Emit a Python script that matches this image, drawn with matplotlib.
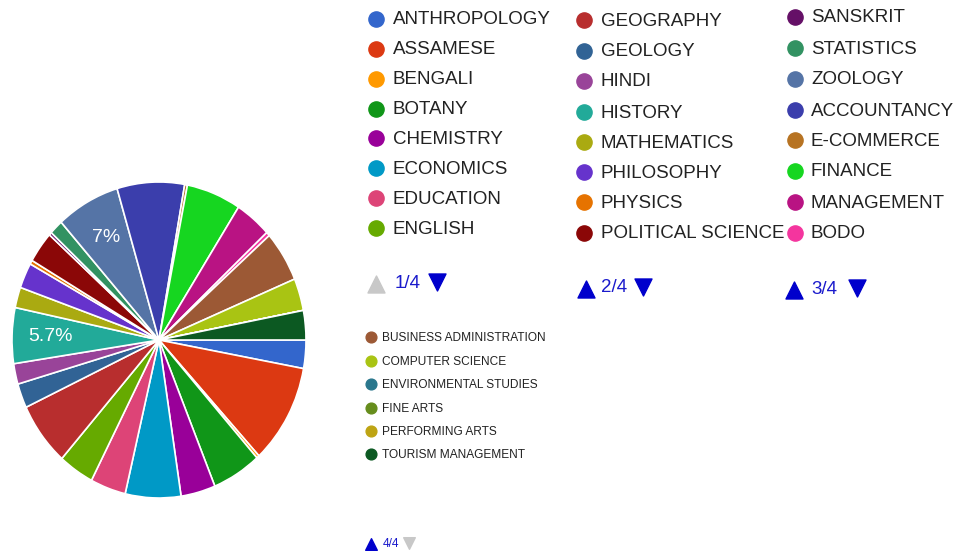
import matplotlib
matplotlib.use("Agg")
import matplotlib.pyplot as plt
from matplotlib import font_manager as fm

# subjects (legend order) and their share of the pie
subjects = ["ANTHROPOLOGY", "ASSAMESE", "BENGALI", "BOTANY", "CHEMISTRY", "ECONOMICS",
            "EDUCATION", "ENGLISH", "GEOGRAPHY", "GEOLOGY", "HINDI", "HISTORY",
            "MATHEMATICS", "PHILOSOPHY", "PHYSICS", "POLITICAL SCIENCE", "SANSKRIT",
            "STATISTICS", "ZOOLOGY", "ACCOUNTANCY", "E-COMMERCE", "FINANCE",
            "MANAGEMENT", "BODO", "BUSINESS ADMINISTRATION", "COMPUTER SCIENCE",
            "ENVIRONMENTAL STUDIES", "FINE ARTS", "PERFORMING ARTS", "TOURISM MANAGEMENT"]
shares = [2.9, 10.2, 0.3, 5.4, 3.8, 6.1,
          3.9, 3.9, 6.5, 2.5, 2.1, 5.7,
          2.1, 2.6, 0.4, 3.2, 0.3,
          1.5, 7.0, 7.4, 0.3, 6.0,
          4.0, 0.4, 5.2, 3.3,
          0.0, 0.0, 0.0, 3.0]
colors = ["#3366cc", "#dc3912", "#ff9900", "#109618", "#990099", "#0099c6",
          "#dd4477", "#66aa00", "#b82e2e", "#316395", "#994499", "#22aa99",
          "#aaaa11", "#6633cc", "#e67300", "#8b0707", "#651067", "#329262",
          "#5574a6", "#3b3eac", "#b77322", "#16d620", "#b91383", "#f4359e",
          "#9c5935", "#a9c413", "#2a778d", "#668d1c", "#bea413", "#0c5922"]
labelled = ["ZOOLOGY", "HISTORY"]
pages = [subjects[0:8], subjects[8:16], subjects[16:24], subjects[24:30]]
page_text = ["1/4", "2/4", "3/4", "4/4"]

names = {f.name for f in fm.fontManager.ttflist}
font = "Liberation Sans"
narrow = "Liberation Sans Narrow" if "Liberation Sans Narrow" in names else None

W, H = 970, 555
fig = plt.figure(figsize=(W / 100, H / 100), dpi=100)

# pie (slightly taller than wide, like the screenshot)
ax = fig.add_axes([12 / W, 57 / H, 294 / W, 316 / H])
def pct_fmt(p):
    return f"{p:.1f}".rstrip("0").rstrip(".") + "%"
wedges, texts, autotexts = ax.pie(shares, colors=colors, startangle=0, counterclock=False,
                                  autopct=pct_fmt, pctdistance=0.74,
                                  wedgeprops=dict(edgecolor="white", linewidth=1.2),
                                  textprops=dict(color="white", fontsize=14, family=font))
for name, t in zip(subjects, autotexts):
    t.set_visible(name in labelled)
ax.set_aspect("auto")
ax.set_xlim(-1, 1)
ax.set_ylim(-1, 1)

# legend pages drawn in pixel coordinates
lg = fig.add_axes([0, 0, 1, 1])
lg.set_xlim(0, W)
lg.set_ylim(H, 0)
lg.axis("off")

col_x = [376, 584, 795]
txt_x = [393, 601, 811]
row_y = [[19, 49, 79, 109, 138, 168, 198, 228],
         [20, 51, 81, 112, 142, 172, 202, 233],
         [17, 48, 79, 110, 140, 171, 202, 233]]
pager = [(376, 395, 437, 283), (586, 601, 643, 288), (794, 811, 857, 289)]
blue, grey = "#0000cc", "#c8c8c8"

for p in range(3):
    for j, name in enumerate(pages[p]):
        k = subjects.index(name)
        lg.scatter(col_x[p], row_y[p][j], s=120, color=colors[k], zorder=3)
        lg.text(txt_x[p], row_y[p][j] + 1, name, fontsize=13.5, family=font,
                color="#222222", va="center", ha="left")
    ux, tx, dx, py = pager[p]
    lg.scatter(ux, py + 1, marker="^", s=150, color=grey if p == 0 else blue, zorder=3)
    lg.text(tx, py, page_text[p], fontsize=13.5, family=font, color="#1a1acc",
            va="center", ha="left")
    lg.scatter(dx, py - 1, marker="v", s=150, color=blue, zorder=3)

# last page, smaller and narrower text
small_y = [337, 361, 384, 408, 431, 454]
fam4 = [narrow, font] if narrow else [font]
fs4 = 10.5 if narrow else 8.6
for j, name in enumerate(pages[3]):
    k = subjects.index(name)
    lg.scatter(371, small_y[j], s=60, color=colors[k], zorder=3)
    lg.text(382, small_y[j] + 1, name, fontsize=fs4, family=fam4,
            color="#222222", va="center", ha="left")
lg.scatter(371, 544, marker="^", s=70, color=blue, zorder=3)
lg.text(383, 544, page_text[3], fontsize=fs4, family=fam4, color="#1a1acc",
        va="center", ha="left")
lg.scatter(409, 543, marker="v", s=70, color=grey, zorder=3)

fig.savefig("out.png", dpi=100)
